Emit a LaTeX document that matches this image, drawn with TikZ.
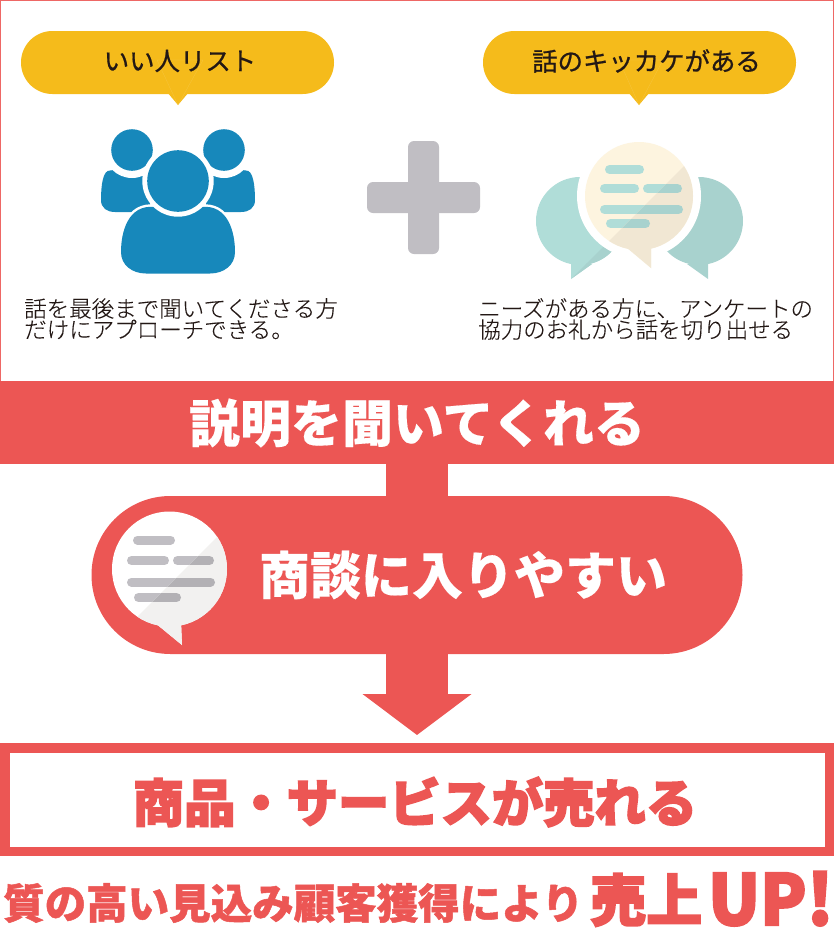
\documentclass[tikz,border=0pt]{standalone}
\usepackage{fontspec}
\usetikzlibrary{arrows.meta,calc}
\newfontfamily\cjk[FakeBold=0.15]{Noto Sans CJK JP Light}
\newfontfamily\cjkmed[FakeBold=0.8]{Noto Sans CJK JP}
\newfontfamily\cjkbold[BoldFeatures={FakeBold=0.3}]{Noto Sans CJK JP}
\newfontfamily\cjkmid[BoldFeatures={FakeBold=1.2}]{Noto Sans CJK JP}
\newfontfamily\cjkheavy[BoldFeatures={FakeBold=3}]{Noto Sans CJK JP}
\definecolor{dr}{HTML}{EC5654}
\definecolor{dy}{HTML}{F5BB1B}
\definecolor{db}{HTML}{1788BB}
\definecolor{dt}{HTML}{231815}
\definecolor{dg}{HTML}{C0BEC3}
\definecolor{dgs}{HTML}{B3B1B5}
\definecolor{teal}{HTML}{B0DDD8}
\definecolor{teals}{HTML}{A8D2CE}
\definecolor{cream}{HTML}{FDF4DF}
\definecolor{creams}{HTML}{F1E7D3}
\definecolor{paper}{HTML}{F2F1F0}
\tikzset{
    band/.style =   {rectangle,
                    fill=dr,
                    inner sep=0pt,
                    outer sep=0pt,
                    minimum width=834pt,
                    minimum height=83pt},
    talk/.style =   {rectangle,
                    rounded corners=78.9pt,
                    fill=dr,
                    inner sep=0pt,
                    outer sep=0pt,
                    minimum width=651pt,
                    minimum height=158pt},
    goods/.style =  {rectangle,
                    fill=white,
                    draw=dr,
                    line width=9.5pt,
                    inner sep=0pt,
                    outer sep=0pt,
                    minimum width=824.5pt,
                    minimum height=103.5pt},
    pill/.style =   {rectangle,
                    rounded corners=31.4pt,
                    fill=dy,
                    inner sep=0pt,
                    minimum width=313pt,
                    minimum height=63pt},
    seam/.style =   {draw=dy!82!white, line width=0.2pt},
    pilltext/.style = {text=dt, inner sep=0pt, font=\cjkmed\fontsize{25.4}{25}\selectfont},
    notes/.style =  {text=dt, inner sep=0pt, anchor=north west, align=left,
                    font=\cjk\fontsize{22.5}{21}\selectfont},
    bigtext/.style = {text=white, inner sep=0pt, font=\cjkbold\bfseries\fontsize{51}{50}\selectfont},
    redtext/.style = {text=dr, inner sep=0pt},
    flow/.style =   {draw=dr, line width=62pt},
    bar/.style =    {line width=9pt, line cap=round},
}
\begin{document}
\begin{tikzpicture}[x=1pt,y=-1pt,node distance=100pt]
    \useasboundingbox (0,0) rectangle (834,929);
    \draw[draw=dr!90!white, line width=1.4pt] (0.5,381) -- (0.5,0.5) -- (833.5,0.5) -- (833.5,381);

    \node[pill]     (listpill) at (177.5,62.5)      {};
    \fill[dy] (167,92) -- (178,105) -- (189,92) -- cycle;
    \draw[seam] (157,60) -- (178,105) -- (203,60) -- cycle;
    \node[pilltext] (listtext) at (180,61)          {いい人リスト};
    \node[pill]     (chancepill) at (639.5,62.5)    {};
    \fill[dy] (628,92) -- (639,105) -- (650,92) -- cycle;
    \draw[seam] (619,60) -- (639,105) -- (663,60) -- cycle;
    \node[pilltext] (chancetext) at (646.5,61)      {話のキッカケがある};

    \foreach \sx/\sy in {1/0,-1/356}{
        \fill[db] ({\sx*110+\sy},170.5) .. controls ({\sx*103+\sy},170) and ({\sx*101+\sy},185) .. ({\sx*101+\sy},200)
            .. controls ({\sx*101+\sy},208) and ({\sx*107+\sy},212) .. ({\sx*115+\sy},212)
            -- ({\sx*150+\sy},212) -- ({\sx*150+\sy},165) -- cycle;
        \fill[white] ({\sx*132+\sy},150) circle (28);
        \fill[db] ({\sx*132+\sy},150) circle (20.8);
    }
    \path[fill=db, draw=white, line width=5pt] (155,207) .. controls (128,204) and (121,232) .. (121,252)
        .. controls (121,265) and (132,273.5) .. (146,273.5) -- (210,273.5)
        .. controls (224,273.5) and (235,265) .. (235,252)
        .. controls (235,232) and (228,204) .. (201,207) -- cycle;
    \fill[db] (155,207) .. controls (128,204) and (121,232) .. (121,252)
        .. controls (121,265) and (132,273.5) .. (146,273.5) -- (210,273.5)
        .. controls (224,273.5) and (235,265) .. (235,252)
        .. controls (235,232) and (228,204) .. (201,207) -- cycle;
    \fill[white] (178,181) circle (35.7);
    \fill[db] (178,181) circle (30.8);

    \fill[dg, rounded corners=6pt] (408,141) rectangle (439,254);
    \fill[dg, rounded corners=6pt] (367,182) rectangle (480,213);

    \fill[teal] (580,221) circle (44);
    \fill[teal] (571,260) -- (571,279) -- (592,264) -- cycle;
    \begin{scope}
        \clip (720,130) -- (520,330) -- (800,330) -- (800,130) -- cycle;
        \fill[teals] (580,221) circle (44);
        \fill[teals] (571,260) -- (571,279) -- (592,264) -- cycle;
    \end{scope}
    \fill[teals] (699,221) circle (44);
    \fill[teals] (708,260) -- (708,279) -- (687,264) -- cycle;
    \fill[white] (639,196) circle (62);
    \path[fill=white, draw=white, line width=8pt] (622,245) -- (651,268) -- (651,245) -- cycle;

    \fill[cream] (639,196) circle (54);
    \fill[cream] (626,247) -- (651,268) -- (651,247) -- cycle;
    \foreach \xa/\xb/\yy in {605/644/169.5,600/639/188.5,643/682/188.5,600/683/209.5,606/650/223.5}
        \draw[bar, teal] ({\xa+4.5},\yy) -- ({\xb-4.5},\yy);
    \begin{scope}
        \clip (720,130) -- (520,330) -- (800,330) -- (800,130) -- cycle;
        \fill[creams] (639,196) circle (54);
        \fill[creams] (626,247) -- (651,268) -- (651,247) -- cycle;
        \foreach \xa/\xb/\yy in {605/644/169.5,600/639/188.5,643/682/188.5,600/683/209.5,606/650/223.5}
            \draw[bar, teals] ({\xa+4.5},\yy) -- ({\xb-4.5},\yy);
    \end{scope}

    \node[notes] (listnote) at (24,298)
        {話を最後まで聞いてくださる方\\だけにアプローチできる。};
    \node[notes] (chancenote) at (478,298)
        {ニーズがある方に、アンケートの\\協力のお礼から話を切り出せる};

    \node[band]     (explain) at (417,422.5)        {};
    \node[bigtext]  (explaintext) at (417,423)      {説明を聞いてくれる};
    \node[talk]     (deal) [below of=explain, node distance=152.5pt] {};
    \node[goods]    (sold) [below of=deal, node distance=224.5pt]    {};
    \path [flow] (explain.south) edge [] node [] {} (deal.north);
    \draw [flow, -{Triangle[width=107pt,length=41pt]}, shorten >=12.75pt] (deal.south) -- (sold.north);

    \fill[white] (169.5,569) circle (57.5);
    \fill[white] (154,622) -- (182,645) -- (181,622) -- cycle;
    \foreach \xa/\xb/\yy in {133/175/540,127/169/560.5,173/214/560.5,127/215/582,134/181/597.5}
        \draw[bar, dg] ({\xa+4.5},\yy) -- ({\xb-4.5},\yy);
    \begin{scope}
        \clip (292,462) -- (100,654) -- (300,654) -- (300,462) -- cycle;
        \fill[paper] (169.5,569) circle (57.5);
        \fill[paper] (154,622) -- (182,645) -- (181,622) -- cycle;
        \foreach \xa/\xb/\yy in {133/175/540,127/169/560.5,173/214/560.5,127/215/582,134/181/597.5}
            \draw[bar, dgs] ({\xa+4.5},\yy) -- ({\xb-4.5},\yy);
    \end{scope}

    \node[bigtext]  (dealtext) at (463,575)         {商談に入りやすい};
    \node[redtext, font=\cjkheavy\bfseries\fontsize{51.3}{50}\selectfont] (soldtext) at (415,802)
        {商品・サービスが売れる};
    \node[redtext, font=\cjkmid\bfseries\fontsize{41.5}{41}\selectfont, anchor=west] (resulttext) at (3,903)
        {質の高い見込み顧客獲得により};
    \node[redtext, font=\cjkheavy\bfseries\fontsize{56}{56}\selectfont, anchor=base west,
        text height=48pt, text depth=4pt] (upmark) at (590,921) {売上};
    \node[redtext, font=\cjkheavy\bfseries\fontsize{70}{70}\selectfont, anchor=base west,
        text height=52pt, text depth=0pt] (uptext) at (708,925) {\scalebox{0.97}[1]{UP!}};
\end{tikzpicture}
\end{document}
